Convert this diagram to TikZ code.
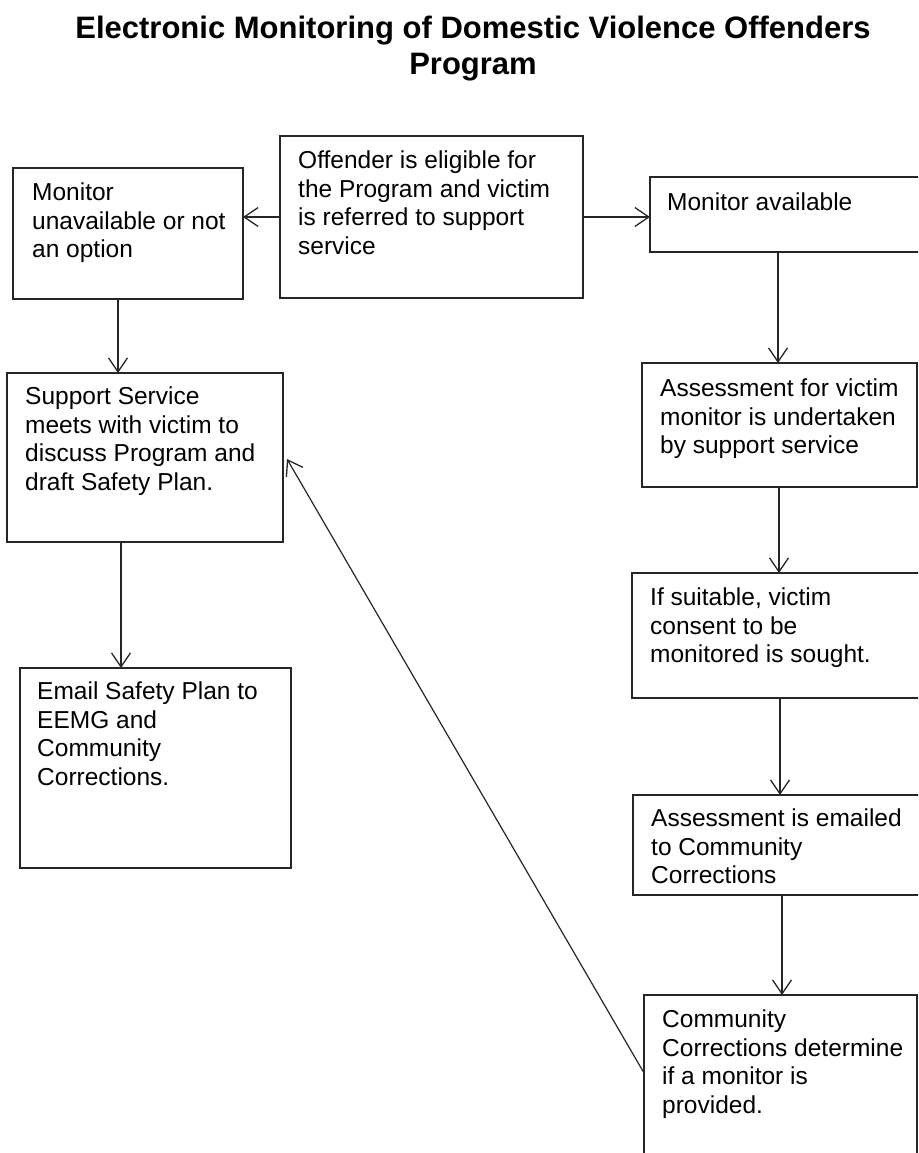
\documentclass[tikz,border=0pt]{standalone}
\usepackage{fontspec}
\setmainfont{Liberation Sans}
\usetikzlibrary{arrows.meta,calc}
\begin{document}
\begin{tikzpicture}[x=1pt,y=-1pt,
  box/.style={draw=black!85, line width=1.3pt, rectangle, inner sep=0pt, outer sep=0pt, anchor=north west},
  txt/.style={anchor=north west, inner sep=0pt, align=left, font=\fontsize{24.5}{28.6}\selectfont},
  arr/.style={draw=black!85, line width=1.2pt, -{Straight Barb[length=14pt,width=19pt,line width=1.3pt]}},
  title/.style={inner sep=0pt, align=center, font=\fontsize{31}{36}\selectfont\bfseries}
]
\useasboundingbox (0,0) rectangle (918,1153);
\clip (0,0) rectangle (918,1153);
% title
\node[title, anchor=base] (t1) at (473,39) {Electronic Monitoring of Domestic Violence Offenders};
\node[title, anchor=base] (t2) at (473,75) {Program};
% boxes
\node[box, minimum width=303pt, minimum height=162pt] (ofd) at (280,136) {};
\node[box, minimum width=230pt, minimum height=131pt] (unav) at (13,168) {};
\node[box, minimum width=290pt, minimum height=75pt] (avail) at (650,177) {};
\node[box, minimum width=275pt, minimum height=124pt] (asm) at (642,363) {};
\node[box, minimum width=300pt, minimum height=125pt] (suit) at (632,573) {};
\node[box, minimum width=300pt, minimum height=100pt] (eml) at (633,795) {};
\node[box, minimum width=273pt, minimum height=180pt] (cc) at (644,995) {};
\node[box, minimum width=276pt, minimum height=169pt] (sup) at (7,373) {};
\node[box, minimum width=271pt, minimum height=200pt] (emg) at (20,668) {};
% texts
\node[txt] (ofdT) at ([xshift=18pt,yshift=-14.5pt]ofd.north west) {Offender is eligible for\\the Program and victim\\is referred to support\\service};
\node[txt] (unavT) at ([xshift=19pt,yshift=-14.5pt]unav.north west) {Monitor\\unavailable or not\\an option};
\node[txt] (availT) at ([xshift=17pt,yshift=-15.5pt]avail.north west) {Monitor available};
\node[txt] (asmT) at ([xshift=18pt,yshift=-15.5pt]asm.north west) {Assessment for victim\\monitor is undertaken\\by support service};
\node[txt] (suitT) at ([xshift=18pt,yshift=-14.5pt]suit.north west) {If suitable, victim\\consent to be\\monitored is sought.};
\node[txt] (emlT) at ([xshift=18pt,yshift=-13.5pt]eml.north west) {Assessment is emailed\\to Community\\Corrections};
\node[txt] (ccT) at ([xshift=18pt,yshift=-14.5pt]cc.north west) {Community\\Corrections determine\\if a monitor is\\provided.};
\node[txt] (supT) at ([xshift=18pt,yshift=-13.5pt]sup.north west) {Support Service\\meets with victim to\\discuss Program and\\draft Safety Plan.};
\node[txt] (emgT) at ([xshift=17pt,yshift=-13.5pt]emg.north west) {Email Safety Plan to\\EEMG and\\Community\\Corrections.};
% connectors
\draw[arr] (ofd.west) -- (ofd.west -| unav.east);
\draw[arr] (ofd.east) -- (ofd.east -| avail.west);
\draw[arr] ([xshift=105pt]unav.south west) -- ([xshift=105pt]unav.south west |- sup.north);
\draw[arr] ([xshift=114pt]sup.south west) -- ([xshift=114pt]sup.south west |- emg.north);
\draw[arr] ([xshift=128pt]avail.south west) -- ([xshift=128pt]avail.south west |- asm.north);
\draw[arr] ([xshift=137pt]asm.south west) -- ([xshift=137pt]asm.south west |- suit.north);
\draw[arr] ([xshift=148pt]suit.south west) -- ([xshift=148pt]suit.south west |- eml.north);
\draw[arr] ([xshift=149pt]eml.south west) -- ([xshift=149pt]eml.south west |- cc.north);
\draw[arr] ([yshift=-78pt]cc.north west) -- ([xshift=4pt,yshift=-86pt]sup.north east);
\end{tikzpicture}
\end{document}
